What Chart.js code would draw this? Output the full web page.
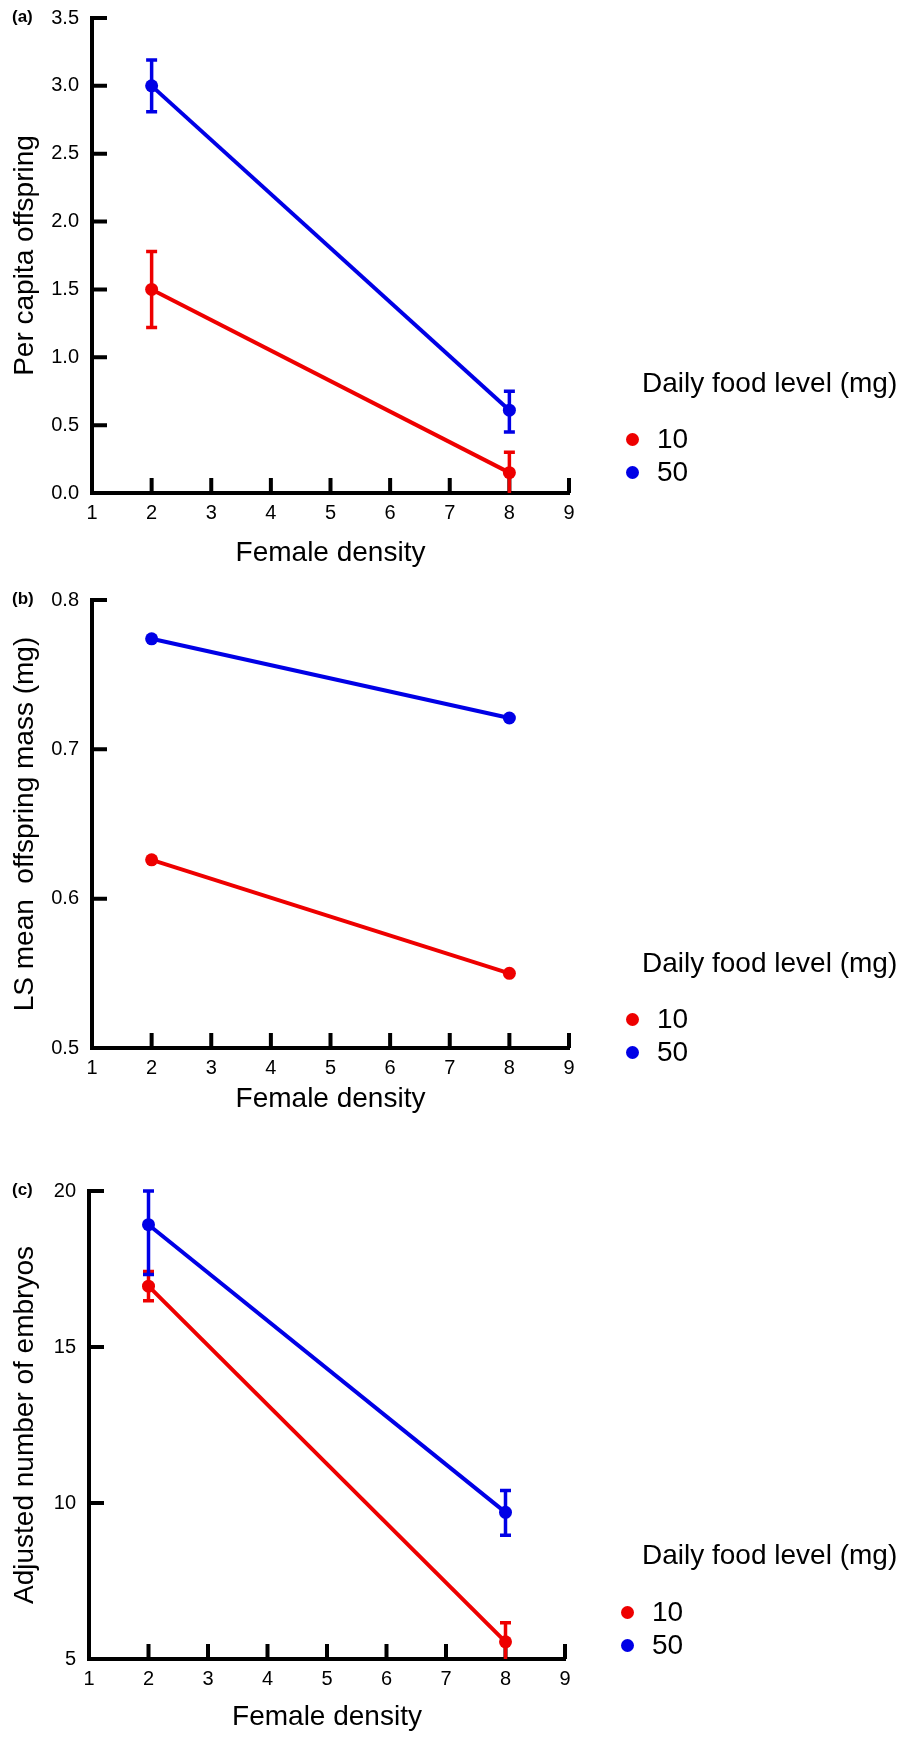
<!DOCTYPE html>
<html>
<head>
<meta charset="utf-8">
<script src="https://cdn.jsdelivr.net/npm/chart.js@4.4.1/dist/chart.umd.min.js"></script>
<style>
  html, body { margin: 0; padding: 0; background: #fff; }
  body { width: 900px; height: 1738px; position: relative; overflow: hidden;
         font-family: "Liberation Sans", Arial, sans-serif; color: #000; }
  .panel { position: absolute; left: 0; width: 900px; }
  .tag { position: absolute; font-weight: bold; font-size: 17px; line-height: 17px; white-space: nowrap; }
  .legend-text { position: absolute; font-size: 28px; line-height: 28px; white-space: pre; }
  .dot { position: absolute; width: 13px; height: 13px; border-radius: 50%; }
</style>
</head>
<body>
<script>
// ---- data ----
const densities = [2, 8];
const densityTicks = [1, 2, 3, 4, 5, 6, 7, 8, 9];
const foodLevels = ['10', '50'];
const foodColors = ['rgb(238,0,0)', 'rgb(0,0,230)'];
const legendTitle = 'Daily food level (mg)';
const xTitle = 'Female density';

// (a) per capita offspring
const offspringTitle = 'Per capita offspring';
const offspringTicks = [0, 0.5, 1, 1.5, 2, 2.5, 3, 3.5];
const offspring10 = [1.50, 0.15];
const offspring10Lo = [1.22, 0.00];
const offspring10Hi = [1.78, 0.30];
const offspring50 = [3.00, 0.61];
const offspring50Lo = [2.81, 0.45];
const offspring50Hi = [3.19, 0.75];

// (b) offspring mass
const massTitle = 'LS mean  offspring mass (mg)';
const massTicks = [0.5, 0.6, 0.7, 0.8];
const mass10 = [0.626, 0.550];
const mass50 = [0.774, 0.721];

// (c) embryos
const embryoTitle = 'Adjusted number of embryos';
const embryoTicks = [5, 10, 15, 20];
const embryo10 = [16.95, 5.55];
const embryo10Lo = [16.48, 5.00];
const embryo10Hi = [17.42, 6.16];
const embryo50 = [18.92, 9.70];
const embryo50Lo = [17.32, 8.97];
const embryo50Hi = [20.00, 10.40];

Chart.defaults.font.family = '"Liberation Sans", Arial, sans-serif';
Chart.defaults.color = '#000';

const TITLE_SIZE = 28;
const TICK_SIZE = 20;

// panel layout (canvas-relative chart area, in px)
const panels = [
  { tag: '(a)', yTitle: offspringTitle, ticks: offspringTicks, digits: 1,
    series: [[offspring10, offspring10Lo, offspring10Hi], [offspring50, offspring50Lo, offspring50Hi]],
    top: 0, height: 585, area: { left: 92, right: 569, top: 18, bottom: 493 }, xTitleY: 553,
    legend: { titleY: 393, rows: [439, 472], dotX: 632, textX: 657 } },
  { tag: '(b)', yTitle: massTitle, ticks: massTicks, digits: 1,
    series: [[mass10], [mass50]],
    top: 580, height: 545, area: { left: 92, right: 569, top: 20, bottom: 468 }, xTitleY: 519,
    legend: { titleY: 973, rows: [1019, 1052], dotX: 632, textX: 657 } },
  { tag: '(c)', yTitle: embryoTitle, ticks: embryoTicks, digits: 0,
    series: [[embryo10, embryo10Lo, embryo10Hi], [embryo50, embryo50Lo, embryo50Hi]],
    top: 1160, height: 578, area: { left: 89, right: 565, top: 31, bottom: 499 }, xTitleY: 557,
    legend: { titleY: 1565, rows: [1612, 1645], dotX: 627, textX: 652 } }
];

// error bars from lo/hi arrays
const errorBars = {
  id: 'errorBars',
  afterDatasetsDraw(chart) {
    const ctx = chart.ctx, xs = chart.scales.x, ys = chart.scales.y;
    chart.data.datasets.forEach(ds => {
      if (!ds.lo) return;
      ctx.save();
      ctx.strokeStyle = ds.borderColor;
      ctx.lineWidth = 3.5;
      ctx.beginPath();
      ds.data.forEach((pt, j) => {
        const x = xs.getPixelForValue(pt.x);
        const yLo = ys.getPixelForValue(ds.lo[j]);
        const yHi = ys.getPixelForValue(ds.hi[j]);
        ctx.moveTo(x, yLo); ctx.lineTo(x, yHi);
        ctx.moveTo(x - 5.5, yHi); ctx.lineTo(x + 5.5, yHi);
        if (ds.lo[j] > ys.min) { ctx.moveTo(x - 5.5, yLo); ctx.lineTo(x + 5.5, yLo); }
      });
      ctx.stroke();
      ctx.restore();
    });
  }
};

// tick marks pointing into the plot
const innerTicks = {
  id: 'innerTicks',
  beforeDatasetsDraw(chart) {
    const { ctx, chartArea: a, scales: { x, y } } = chart;
    ctx.save();
    ctx.strokeStyle = '#000';
    ctx.lineWidth = 4;
    ctx.beginPath();
    x.ticks.forEach(t => {
      if (t.value === x.min) return;
      const px = x.getPixelForValue(t.value);
      ctx.moveTo(px, a.bottom); ctx.lineTo(px, a.bottom - 15);
    });
    y.ticks.forEach(t => {
      if (t.value === y.min) return;
      const py = y.getPixelForValue(t.value);
      ctx.moveTo(a.left, py); ctx.lineTo(a.left + 15, py);
    });
    ctx.stroke();
    ctx.restore();
  }
};

function addText(cls, text, left, top) {
  const el = document.createElement('div');
  el.className = cls;
  el.textContent = text;
  el.style.left = left + 'px';
  el.style.top = top + 'px';
  document.body.appendChild(el);
}

function makePanel(p) {
  const wrap = document.createElement('div');
  wrap.className = 'panel';
  wrap.style.top = p.top + 'px';
  wrap.style.height = p.height + 'px';
  const canvas = document.createElement('canvas');
  canvas.width = 900;
  canvas.height = p.height;
  wrap.appendChild(canvas);
  document.body.appendChild(wrap);

  const a = p.area;
  const titleLine = TITLE_SIZE * 1.2;
  new Chart(canvas, {
    type: 'line',
    data: {
      datasets: p.series.map((s, i) => ({
        label: foodLevels[i],
        data: densities.map((d, j) => ({ x: d, y: s[0][j] })),
        lo: s[1], hi: s[2],
        borderColor: foodColors[i],
        backgroundColor: foodColors[i],
        borderWidth: 4,
        pointRadius: 6.5,
        pointHoverRadius: 6.5,
        pointBorderWidth: 0,
        tension: 0
      }))
    },
    options: {
      responsive: false,
      animation: false,
      devicePixelRatio: 1,
      layout: { padding: { top: a.top, left: 0, right: 900 - a.right, bottom: 0 } },
      plugins: { legend: { display: false }, tooltip: { enabled: false } },
      scales: {
        x: {
          type: 'linear', min: 1, max: 9,
          afterBuildTicks: s => { s.ticks = densityTicks.map(v => ({ value: v })); },
          afterFit: s => { s.height = p.height - a.bottom; s.paddingLeft = 0; s.paddingRight = 0; },
          grid: { drawOnChartArea: false, drawTicks: false },
          border: { display: true, width: 4, color: '#000' },
          ticks: { padding: 8, font: { size: TICK_SIZE }, color: '#000' },
          title: { display: true, text: xTitle, color: '#000', font: { size: TITLE_SIZE },
                   padding: { top: 0, bottom: p.height - p.xTitleY - titleLine / 2 } }
        },
        y: {
          type: 'linear', min: p.ticks[0], max: p.ticks[p.ticks.length - 1],
          afterBuildTicks: s => { s.ticks = p.ticks.map(v => ({ value: v })); },
          afterFit: s => { s.width = a.left; s.paddingTop = 0; s.paddingBottom = 0; },
          grid: { drawOnChartArea: false, drawTicks: false },
          border: { display: true, width: 4, color: '#000' },
          ticks: { padding: 13, font: { size: TICK_SIZE }, color: '#000',
                   callback: v => Number(v).toFixed(p.digits) },
          title: { display: true, text: p.yTitle, color: '#000', font: { size: TITLE_SIZE },
                   padding: { top: 8, bottom: 0 } }
        }
      }
    },
    plugins: [innerTicks, errorBars]
  });

  // panel tag, aligned with the top tick
  addText('tag', p.tag, 12, p.top + a.top - 10);

  // legend
  const L = p.legend;
  addText('legend-text', legendTitle, 642, L.titleY - 23.7);
  foodLevels.forEach((lvl, i) => {
    const dot = document.createElement('div');
    dot.className = 'dot';
    dot.style.background = foodColors[i];
    dot.style.left = (L.dotX - 6.5) + 'px';
    dot.style.top = (L.rows[i] - 6.5) + 'px';
    document.body.appendChild(dot);
    addText('legend-text', lvl, L.textX, L.rows[i] - 13.7);
  });
}

panels.forEach(makePanel);
</script>
</body>
</html>
